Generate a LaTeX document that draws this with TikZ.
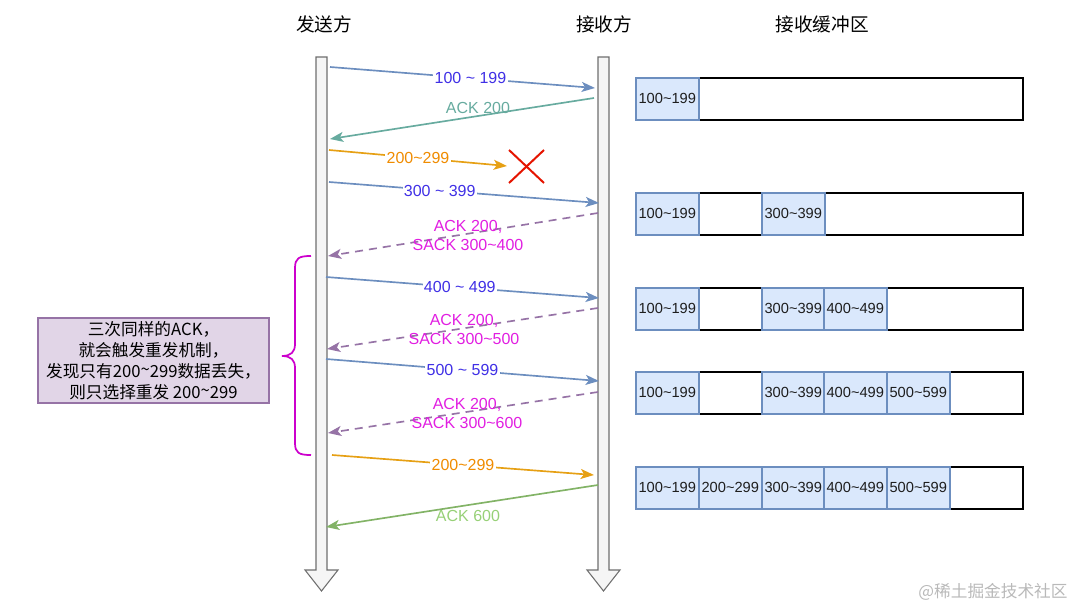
\documentclass[tikz,border=0pt]{standalone}
\usepackage{fontspec}
\setmainfont{Liberation Sans}
\newfontfamily\cjk{Noto Sans CJK SC}
\usetikzlibrary{arrows.meta}
\newcommand\tld{\textasciitilde}
\definecolor{dblue}{RGB}{108,142,191}
\definecolor{lblue}{RGB}{64,48,230}
\definecolor{cellfill}{RGB}{218,232,252}
\definecolor{teal2}{RGB}{103,171,159}
\definecolor{oline}{RGB}{230,160,20}
\definecolor{otext}{RGB}{240,140,0}
\definecolor{pline}{RGB}{150,115,166}
\definecolor{mtext}{RGB}{225,30,225}
\definecolor{gline}{RGB}{130,179,102}
\definecolor{gtext}{RGB}{151,208,119}
\definecolor{bracec}{RGB}{204,0,204}
\definecolor{notefill}{RGB}{225,213,231}
\definecolor{barfill}{RGB}{245,245,245}
\definecolor{xred}{RGB}{229,20,0}
\tikzset{
  tip/.style={-{Stealth[length=10pt,width=7.5pt,inset=2.5pt]}},
  msg/.style={tip,line width=1.25pt},
  datalbl/.style={fill=white,inner sep=1pt,text=lblue,font=\fontsize{12}{14}\selectfont},
  acklbl/.style={inner sep=0pt,align=center,font=\fontsize{12}{14.5}\selectfont},
  cell/.style={draw=dblue,fill=cellfill,line width=1.2pt,minimum width=47.25pt,minimum height=31.5pt,inner sep=0pt,text={rgb,255:red,30;green,30;blue,30},font=\fontsize{11}{13}\selectfont,anchor=north west},
  buf/.style={draw=black,line width=1.4pt,minimum width=290.25pt,minimum height=31.5pt,inner sep=0pt,anchor=north west},
  bar/.style={draw={rgb,255:red,110;green,110;blue,110},fill=barfill,line width=0.8pt},
  head/.style={font=\cjk\fontsize{14}{16}\selectfont},
}
\begin{document}
\begin{tikzpicture}[x=0.75pt,y=-0.75pt]
\useasboundingbox (0,0) rectangle (1080,609);
% headers
\node[head] (hs) at (324,24) {发送方};
\node[head] (hr) at (604,24) {接收方};
\node[head] (hb) at (822,24) {接收缓冲区};
% life lines
\draw[bar] (316,57) -- (327,57) -- (327,570) -- (338,570) -- (321.5,591) -- (305,570) -- (316,570) -- cycle;
\draw[bar] (598,57) -- (609,57) -- (609,570) -- (620,570) -- (603.5,591) -- (587,570) -- (598,570) -- cycle;
% endpoints
\coordinate (a1s) at (330,67);  \coordinate (a1e) at (595,88);
\coordinate (a2s) at (594,98);  \coordinate (a2e) at (330,139);
\coordinate (a3s) at (329,150); \coordinate (a3e) at (507,166);
\coordinate (a4s) at (329,182); \coordinate (a4e) at (599,203);
\coordinate (a5s) at (598,213); \coordinate (a5e) at (328,256);
\coordinate (a6s) at (326,277); \coordinate (a6e) at (599,298);
\coordinate (a7s) at (598,308); \coordinate (a7e) at (327,349);
\coordinate (a8s) at (326,359); \coordinate (a8e) at (599,381);
\coordinate (a9s) at (598,392); \coordinate (a9e) at (328,433);
\coordinate (a10s) at (332,455); \coordinate (a10e) at (594,475);
\coordinate (a11s) at (598,485); \coordinate (a11e) at (326,527);
% messages
\draw[msg,draw=dblue] (a1s) -- node[datalbl,pos=0.53] (l1) {100 \tld{} 199} (a1e);
\draw[msg,draw=teal2] (a2s) -- (a2e);
\node[acklbl,text=teal2] (l2) at (478,108) {ACK 200};
\draw[msg,draw=oline] (a3s) -- node[datalbl,text=otext,pos=0.5] (l3) {200\tld{}299} (a3e);
\draw[msg,draw=dblue] (a4s) -- node[datalbl,pos=0.41] (l4) {300 \tld{} 399} (a4e);
\draw[msg,draw=pline,dashed,dash pattern=on 6pt off 4.5pt] (a5s) -- (a5e);
\node[acklbl,text=mtext] (l5) at (468,235.5) {ACK 200,\\SACK 300\tld{}400};
\draw[msg,draw=dblue] (a6s) -- node[datalbl,pos=0.49] (l6) {400 \tld{} 499} (a6e);
\draw[msg,draw=pline,dashed,dash pattern=on 6pt off 4.5pt] (a7s) -- (a7e);
\node[acklbl,text=mtext] (l7) at (464,329.5) {ACK 200,\\SACK 300\tld{}500};
\draw[msg,draw=dblue] (a8s) -- node[datalbl,pos=0.5] (l8) {500 \tld{} 599} (a8e);
\draw[msg,draw=pline,dashed,dash pattern=on 6pt off 4.5pt] (a9s) -- (a9e);
\node[acklbl,text=mtext] (l9) at (467,413.5) {ACK 200,\\SACK 300\tld{}600};
\draw[msg,draw=oline] (a10s) -- node[datalbl,text=otext,pos=0.5] (l10) {200\tld{}299} (a10e);
\draw[msg,draw=gline] (a11s) -- (a11e);
\node[acklbl,text=gtext] (l11) at (468,516) {ACK 600};
% lost mark
\coordinate (xc) at (526,166);
\draw[xred,line width=1.5pt] (509,150) -- (544,183) (544,150) -- (509,183);
% brace
\draw[bracec,line width=1.3pt] (311,256) .. controls (299,256) and (295,258) .. (295,268) -- (295,344) .. controls (295,352) and (291,356) .. (282,356) .. controls (291,356) and (295,360) .. (295,368) -- (295,443) .. controls (295,453) and (299,455) .. (311,455);
% note
\node[draw=pline,fill=notefill,line width=0.8pt,minimum width=173.25pt,minimum height=63.75pt,inner sep=0pt,align=center,font=\cjk\fontsize{12.5}{15.75}\selectfont] (note) at (153.5,360.5) {三次同样的ACK，\\就会触发重发机制，\\发现只有200\raisebox{0.1em}{\textasciitilde}299数据丢失，\\则只选择重发 200\raisebox{0.1em}{\textasciitilde}299};
% buffers
\node[buf] (b1) at (635,77) {};
\node[cell] (c11) at (635,77) {100\tld{}199};
\node[buf] (b2) at (635,192) {};
\node[cell] (c21) at (635,192) {100\tld{}199};
\node[cell] (c23) at (761,192) {300\tld{}399};
\node[buf] (b3) at (635,287) {};
\node[cell] (c31) at (635,287) {100\tld{}199};
\node[cell] (c33) at (761,287) {300\tld{}399};
\node[cell] (c34) at (823,287) {400\tld{}499};
\node[buf] (b4) at (635,371) {};
\node[cell] (c41) at (635,371) {100\tld{}199};
\node[cell] (c43) at (761,371) {300\tld{}399};
\node[cell] (c44) at (823,371) {400\tld{}499};
\node[cell] (c45) at (886,371) {500\tld{}599};
\node[buf] (b5) at (635,466) {};
\node[cell] (c51) at (635,466) {100\tld{}199};
\node[cell] (c52) at (698,466) {200\tld{}299};
\node[cell] (c53) at (761,466) {300\tld{}399};
\node[cell] (c54) at (823,466) {400\tld{}499};
\node[cell] (c55) at (886,466) {500\tld{}599};
% watermark
\node[text={rgb,255:red,185;green,185;blue,185},font=\cjk\fontsize{12.5}{14}\selectfont] (wm) at (993,592) {@稀土掘金技术社区};
\end{tikzpicture}
\end{document}
